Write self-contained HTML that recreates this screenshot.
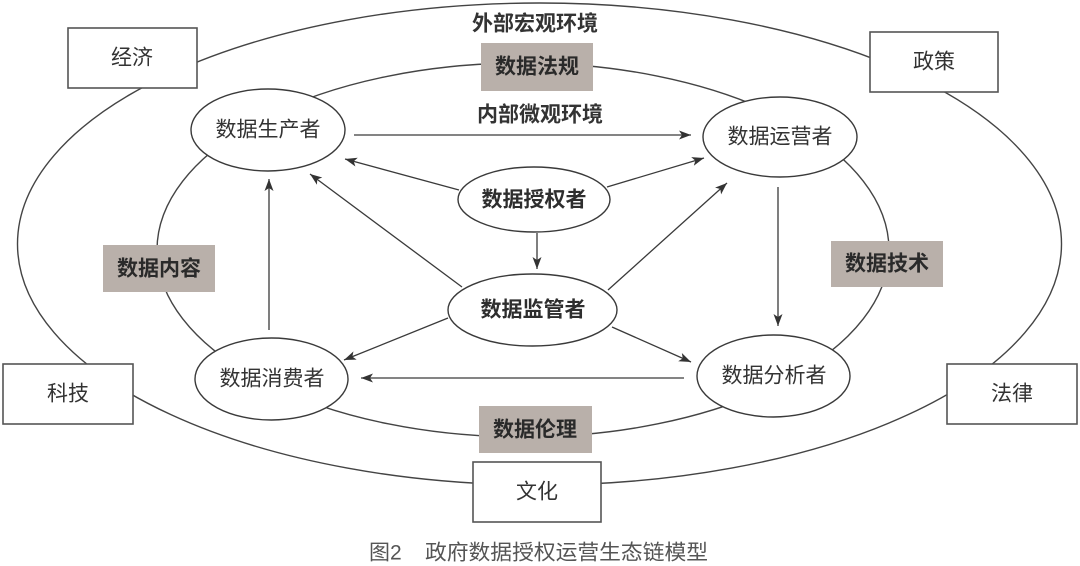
<!DOCTYPE html>
<html>
<head>
<meta charset="utf-8">
<style>
  html, body { margin: 0; padding: 0; background: #ffffff; }
  body { width: 1080px; height: 566px; overflow: hidden; }
  svg { display: block; }
  text { font-family: "Liberation Sans", "Noto Sans CJK SC", "WenQuanYi Zen Hei", sans-serif; }
</style>
</head>
<body>
<svg width="1080" height="566" viewBox="0 0 1080 566" xmlns="http://www.w3.org/2000/svg">
  <defs>
    <marker id="ah" markerUnits="userSpaceOnUse" markerWidth="14" markerHeight="10" refX="12" refY="4.5" orient="auto">
      <path d="M0,0 L12,4.5 L0,9 L3,4.5 Z" fill="#333"/>
    </marker>
  </defs>

  <!-- outer ellipse -->
  <ellipse cx="539.5" cy="244" rx="522" ry="241" fill="none" stroke="#444" stroke-width="1.4"/>
  <!-- inner ellipse -->
  <ellipse cx="523" cy="250" rx="366" ry="187" fill="none" stroke="#444" stroke-width="1.4"/>

  <!-- external boxes -->
  <rect x="68" y="28" width="129" height="60" fill="#fff" stroke="#555" stroke-width="1.6"/>
  <rect x="870" y="32" width="128" height="60" fill="#fff" stroke="#555" stroke-width="1.6"/>
  <rect x="3" y="364" width="130" height="60" fill="#fff" stroke="#555" stroke-width="1.6"/>
  <rect x="947" y="364" width="130" height="60" fill="#fff" stroke="#555" stroke-width="1.6"/>
  <rect x="473" y="462" width="128" height="60" fill="#fff" stroke="#555" stroke-width="1.6"/>

  <!-- gray label boxes -->
  <rect x="481" y="43" width="112" height="48" fill="#b9b0aa"/>
  <rect x="103" y="245" width="112" height="47" fill="#b9b0aa"/>
  <rect x="831" y="241" width="112" height="46" fill="#b9b0aa"/>
  <rect x="479" y="406" width="113" height="47" fill="#b9b0aa"/>

  <!-- arrows -->
  <g stroke="#3a3a3a" stroke-width="1.3" fill="none" marker-end="url(#ah)">
    <line x1="354" y1="135" x2="691" y2="135"/>
    <line x1="459" y1="190" x2="345" y2="159"/>
    <line x1="607" y1="187" x2="704" y2="158"/>
    <line x1="537" y1="233" x2="537" y2="269"/>
    <line x1="462" y1="287" x2="310" y2="174"/>
    <line x1="608" y1="290" x2="727" y2="183"/>
    <line x1="448" y1="318" x2="344" y2="360"/>
    <line x1="612" y1="327" x2="691" y2="362"/>
    <line x1="684" y1="378" x2="361" y2="378"/>
    <line x1="269" y1="330" x2="269" y2="179"/>
    <line x1="778" y1="187" x2="778" y2="326"/>
  </g>

  <!-- node ellipses -->
  <g fill="#fff" stroke="#3a3a3a" stroke-width="1.4">
    <ellipse cx="268" cy="130" rx="77" ry="41"/>
    <ellipse cx="780" cy="137" rx="77" ry="40"/>
    <ellipse cx="534" cy="199.5" rx="76" ry="32.5"/>
    <ellipse cx="532.5" cy="310" rx="84.5" ry="36"/>
    <ellipse cx="271.5" cy="379" rx="76.5" ry="41"/>
    <ellipse cx="773.5" cy="376" rx="76.5" ry="41"/>
  </g>

  <!-- node text -->
  <g font-size="21" fill="#333" text-anchor="middle" dominant-baseline="central">
    <text x="268" y="130">数据生产者</text>
    <text x="780" y="137">数据运营者</text>
    <text x="534" y="200" font-weight="bold" fill="#2e2e2e">数据授权者</text>
    <text x="533" y="310" font-weight="bold" fill="#2e2e2e">数据监管者</text>
    <text x="272" y="379">数据消费者</text>
    <text x="774" y="376">数据分析者</text>
  </g>

  <!-- box text -->
  <g font-size="21" fill="#333" text-anchor="middle" dominant-baseline="central">
    <text x="132" y="58">经济</text>
    <text x="934" y="62">政策</text>
    <text x="68" y="394">科技</text>
    <text x="1012" y="394">法律</text>
    <text x="537" y="492">文化</text>
  </g>

  <!-- gray label text -->
  <g font-size="21" fill="#2a2a2a" font-weight="bold" text-anchor="middle" dominant-baseline="central">
    <text x="537" y="67">数据法规</text>
    <text x="159" y="269">数据内容</text>
    <text x="887" y="264">数据技术</text>
    <text x="535" y="430">数据伦理</text>
  </g>

  <!-- environment labels -->
  <g font-size="21" fill="#333" font-weight="bold" text-anchor="middle" dominant-baseline="central">
    <text x="535" y="24">外部宏观环境</text>
    <text x="540" y="115">内部微观环境</text>
  </g>

  <!-- caption -->
  <g font-size="21" fill="#555" dominant-baseline="central">
    <text x="369" y="553">图2</text>
    <text x="425" y="553" textLength="283" lengthAdjust="spacingAndGlyphs">政府数据授权运营生态链模型</text>
  </g>
</svg>
</body>
</html>
